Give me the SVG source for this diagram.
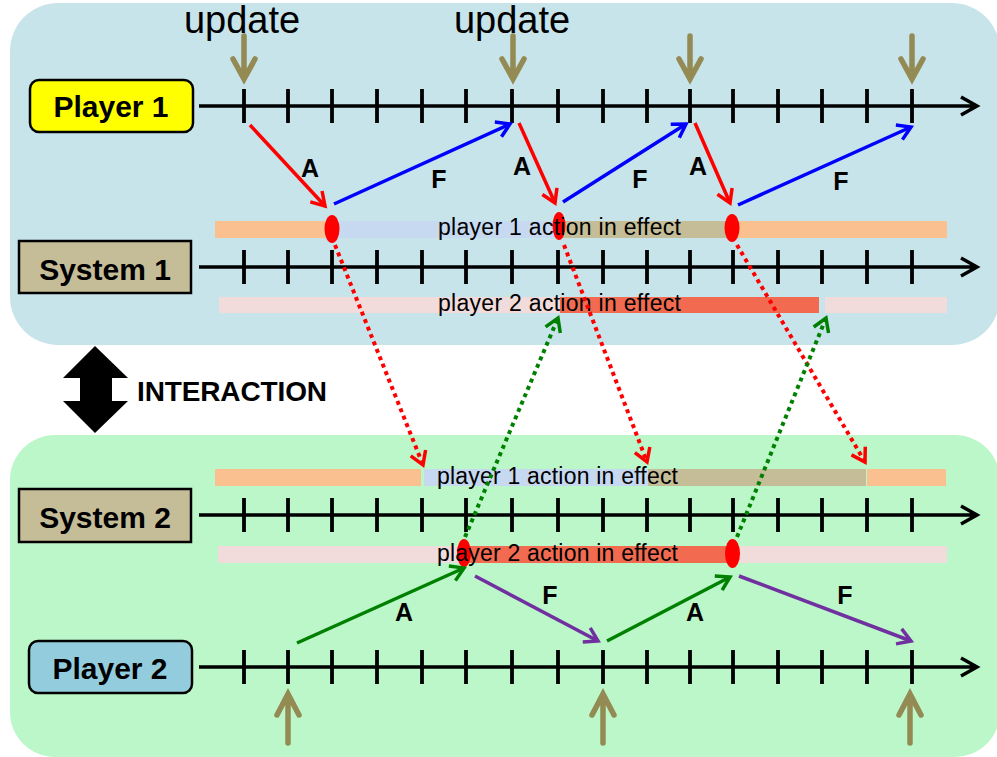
<svg xmlns="http://www.w3.org/2000/svg" width="997" height="757" viewBox="0 0 997 757">
<style>
.lbl{font-family:"Liberation Sans",Arial,sans-serif;font-weight:bold;fill:#000;text-anchor:middle}
.upd{font-family:"Liberation Sans",Arial,sans-serif;font-size:38px;fill:#000;text-anchor:middle}
.bar{font-family:"Liberation Sans",Arial,sans-serif;font-size:23px;fill:#000}
.af{font-family:"Liberation Sans",Arial,sans-serif;font-weight:bold;font-size:25px;fill:#000;text-anchor:middle}
.axis{stroke:#000;stroke-width:3.5;fill:none}
.tick{stroke:#000;stroke-width:3.8}
.tan{stroke:#948A54;stroke-width:5.5;fill:none;stroke-linecap:round;stroke-linejoin:miter}
.sol{stroke-width:3.5;fill:none}
.dot{stroke-width:4;fill:none;stroke-dasharray:4 4}
</style>
<defs>
<marker id="mr" markerUnits="userSpaceOnUse" markerWidth="24" markerHeight="24" viewBox="-18 -12 24 24" refX="0" refY="0" orient="auto"><path d="M-13,-8 L0,0 L-13,8" fill="none" stroke="#FF0000" stroke-width="3.5"/></marker>
<marker id="mb" markerUnits="userSpaceOnUse" markerWidth="24" markerHeight="24" viewBox="-18 -12 24 24" refX="0" refY="0" orient="auto"><path d="M-13,-8 L0,0 L-13,8" fill="none" stroke="#0000FF" stroke-width="3.5"/></marker>
<marker id="mg" markerUnits="userSpaceOnUse" markerWidth="24" markerHeight="24" viewBox="-18 -12 24 24" refX="0" refY="0" orient="auto"><path d="M-13,-8 L0,0 L-13,8" fill="none" stroke="#008000" stroke-width="3.5"/></marker>
<marker id="mp" markerUnits="userSpaceOnUse" markerWidth="24" markerHeight="24" viewBox="-18 -12 24 24" refX="0" refY="0" orient="auto"><path d="M-13,-8 L0,0 L-13,8" fill="none" stroke="#7030A0" stroke-width="3.5"/></marker>
<g id="ticks"><path class="tick" d="M244,-17V17M288,-17V17M332,-17V17M377,-17V17M422,-17V17M466,-17V17M512,-17V17M558,-17V17M603,-17V17M647,-17V17M690,-17V17M733,-17V17M778,-17V17M822,-17V17M867,-17V17M912,-17V17"/><path class="axis" d="M199,0H977M961,-9L977,0L961,9"/></g>
</defs>

<rect id="panel1" x="10" y="3" width="990" height="342" rx="48" fill="#C8E4EB"/>
<rect id="panel2" x="10" y="435" width="990" height="322" rx="45" fill="#BBF7C8"/>

<g id="interaction">
<path d="M95,346 L128,378 L112,378 L112,401 L128,401 L95,433 L63,401 L80,401 L80,378 L63,378 Z" fill="#000"/>
<text class="lbl" x="232" y="401" font-size="28" textLength="190">INTERACTION</text>
</g>

<g id="updates">
<text class="upd" x="242" y="33">update</text>
<text class="upd" x="512" y="33">update</text>
<path class="tan" d="M244,36V78M233,59L244,79L255,59"/>
<path class="tan" d="M513,36V78M502,59L513,79L524,59"/>
<path class="tan" d="M690,36V78M679,59L690,79L701,59"/>
<path class="tan" d="M912,36V78M901,59L912,79L923,59"/>
<path class="tan" d="M288,743V695M277,715L288,694L299,715"/>
<path class="tan" d="M603,743V695M592,715L603,694L614,715"/>
<path class="tan" d="M910,743V695M899,715L910,694L921,715"/>
</g>

<g id="player1">
<rect x="30" y="80" width="163" height="52" rx="9" fill="#FFFF00" stroke="#000" stroke-width="2.5"/>
<text class="lbl" x="111" y="117" font-size="30">Player 1</text>
<use href="#ticks" y="106"/>
</g>

<g id="system1">
<rect x="19" y="241" width="172" height="52" fill="#C4BD97" stroke="#000" stroke-width="2.5"/>
<text class="lbl" x="105" y="280" font-size="30">System 1</text>
<use href="#ticks" y="267"/>
</g>

<g id="system2">
<rect x="19" y="489" width="172" height="53" fill="#C4BD97" stroke="#000" stroke-width="2.5"/>
<text class="lbl" x="105" y="528" font-size="30">System 2</text>
<use href="#ticks" y="515"/>
</g>

<g id="player2">
<rect x="29" y="641" width="163" height="52" rx="9" fill="#93CDDD" stroke="#000" stroke-width="2.5"/>
<text class="lbl" x="110" y="679" font-size="30">Player 2</text>
<use href="#ticks" y="667"/>
</g>

<g id="bars1">
<rect x="215" y="221" width="115" height="17" fill="#FAC090"/>
<rect x="330" y="221" width="229" height="17" fill="#C6D9F1"/>
<rect x="559" y="221" width="173" height="17" fill="#C4BD97"/>
<rect x="732" y="221" width="215" height="17" fill="#FAC090"/>
<rect x="219" y="297" width="341" height="16" fill="#F2DCDB"/>
<rect x="560" y="297" width="259" height="16" fill="#F26B50"/>
<rect x="825" y="297" width="122" height="16" fill="#F2DCDB"/>
<ellipse cx="332" cy="229" rx="7.5" ry="14" fill="#FF0000"/>
<ellipse cx="559" cy="226" rx="6.5" ry="14" fill="#FF0000"/>
<ellipse cx="732" cy="228" rx="7.5" ry="14" fill="#FF0000"/>
<text class="bar" x="438" y="235" textLength="243">player 1 action in effect</text>
<text class="bar" x="438" y="311" textLength="243">player 2 action in effect</text>
</g>

<g id="bars2">
<rect x="215" y="469" width="206" height="17" fill="#FAC090"/>
<rect x="424" y="469" width="224" height="17" fill="#C6D9F1"/>
<rect x="648" y="469" width="218" height="17" fill="#C4BD97"/>
<rect x="867" y="469" width="79" height="17" fill="#FAC090"/>
<rect x="218" y="546" width="246" height="17" fill="#F2DCDB"/>
<rect x="464" y="546" width="269" height="17" fill="#F26B50"/>
<rect x="733" y="546" width="214" height="17" fill="#F2DCDB"/>
<ellipse cx="464" cy="553" rx="7" ry="14" fill="#FF0000"/>
<ellipse cx="732.5" cy="553.5" rx="7.5" ry="14.5" fill="#FF0000"/>
<text class="bar" x="437" y="484" textLength="241">player 1 action in effect</text>
<text class="bar" x="437" y="561" textLength="241">player 2 action in effect</text>
</g>

<g id="connectors">
<path class="sol" stroke="#FF0000" marker-end="url(#mr)" d="M250,125L325,206"/>
<path class="sol" stroke="#0000FF" marker-end="url(#mb)" d="M334,204L510,124"/>
<path class="sol" stroke="#FF0000" marker-end="url(#mr)" d="M519,123L555,203"/>
<path class="sol" stroke="#0000FF" marker-end="url(#mb)" d="M563,202L686,124"/>
<path class="sol" stroke="#FF0000" marker-end="url(#mr)" d="M695,123L730,203"/>
<path class="sol" stroke="#0000FF" marker-end="url(#mb)" d="M738,205L911,127"/>
<path class="dot" stroke="#FF0000" marker-end="url(#mr)" d="M335,245L423,465"/>
<path class="dot" stroke="#FF0000" marker-end="url(#mr)" d="M564,245L647,462"/>
<path class="dot" stroke="#FF0000" marker-end="url(#mr)" d="M737,245L865,462"/>
<path class="dot" stroke="#008000" marker-end="url(#mg)" d="M465,537L558,318"/>
<path class="dot" stroke="#008000" marker-end="url(#mg)" d="M737,537L826,318"/>
<path class="sol" stroke="#008000" marker-end="url(#mg)" d="M297,643L464,568"/>
<path class="sol" stroke="#7030A0" marker-end="url(#mp)" d="M475,576L598,641"/>
<path class="sol" stroke="#008000" marker-end="url(#mg)" d="M607,641L730,577"/>
<path class="sol" stroke="#7030A0" marker-end="url(#mp)" d="M739,576L911,641"/>
<text class="af" x="310" y="177">A</text>
<text class="af" x="439" y="188">F</text>
<text class="af" x="522" y="175">A</text>
<text class="af" x="640" y="188">F</text>
<text class="af" x="698" y="175">A</text>
<text class="af" x="841" y="190">F</text>
<text class="af" x="404" y="621">A</text>
<text class="af" x="550" y="604">F</text>
<text class="af" x="695" y="621">A</text>
<text class="af" x="845" y="604">F</text>
</g>
</svg>
